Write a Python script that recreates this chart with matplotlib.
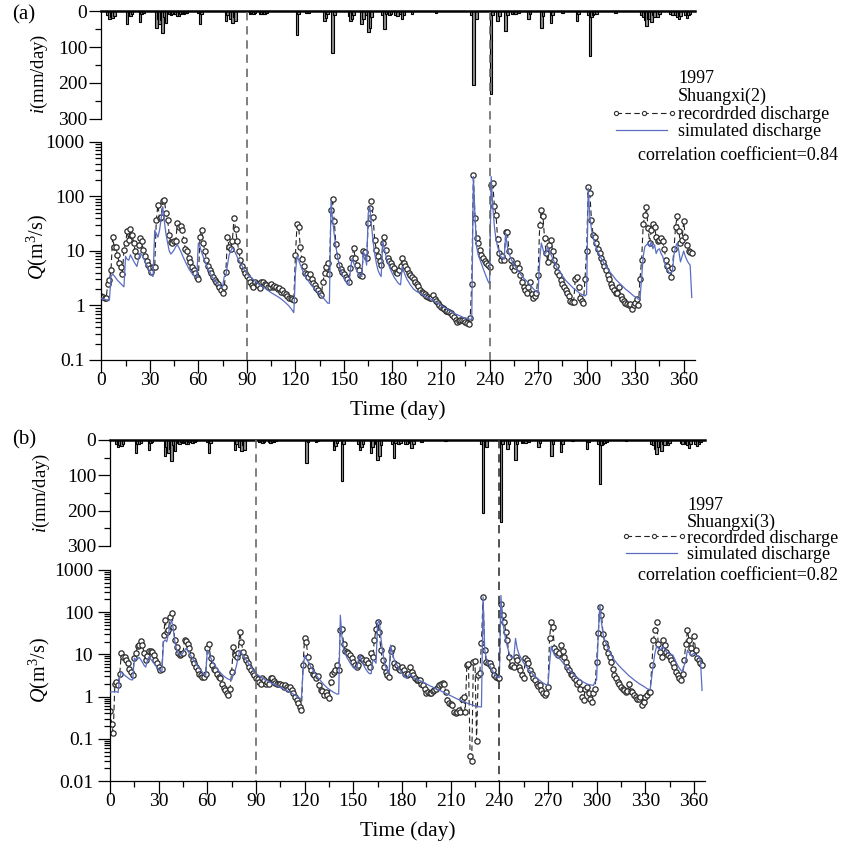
import matplotlib
matplotlib.use("Agg")
import matplotlib.pyplot as plt
import matplotlib.transforms as mtransforms
from matplotlib.lines import Line2D
from matplotlib.ticker import FixedLocator, FixedFormatter, LogLocator, NullFormatter, MultipleLocator

plt.rcParams['font.family'] = 'Liberation Serif'
plt.rcParams['mathtext.fontset'] = 'custom'
plt.rcParams['mathtext.rm'] = 'Liberation Serif'
plt.rcParams['mathtext.it'] = 'Liberation Serif:italic'

# ---------------- data ----------------
days = list(range(366))

# daily rainfall (mm/day), same gauge for both panels
rain_day = [4, 5, 6, 7, 8,
            16, 17, 18, 19,
            24, 25, 26,
            34, 35, 36, 37, 38, 39, 40,
            42, 43, 44, 45, 46, 47, 48, 49, 50, 51, 52, 53,
            60, 61, 62,
            77, 78, 80, 81, 82, 83,
            92, 93, 94, 95,
            98, 99, 100, 101, 102,
            121, 122,
            127, 128,
            138, 139, 140,
            143, 144,
            153, 154, 155, 156,
            161, 162, 164, 165, 166, 167,
            174, 175, 176, 178, 179,
            182, 183, 185, 186, 187,
            192,
            207,
            229, 230, 232,
            241, 242,
            245, 246,
            250, 251,
            254, 255, 256, 258,
            264, 265,
            272, 273,
            278, 279,
            285,
            294, 295,
            301, 302, 303, 304, 305, 306,
            318,
            334, 335, 336, 337, 338, 339, 340, 341, 342, 344, 345,
            352, 353,
            355, 356, 357, 358,
            361, 362, 363, 364]
rain_mm = [10, 20, 15, 17, 12,
           36, 10, 12, 8,
           29, 8, 5,
           45, 20, 36, 25, 59, 15, 31,
           8, 10, 6, 8, 6, 12, 12, 6, 5, 8, 5, 4,
           5, 36, 8,
           28, 10, 20, 32, 15, 28,
           7, 5, 8, 5,
           6, 8, 7, 6, 4,
           65, 6,
           5, 4,
           28, 17, 8,
           117, 10,
           12, 28, 20, 10,
           36, 20, 10, 58, 45, 15,
           10, 50, 8, 10, 8,
           10, 12, 8, 22, 10,
           6,
           4,
           10, 207, 21,
           232, 10,
           26, 12,
           56, 10,
           8, 6, 8, 5,
           21, 8,
           45, 12,
           33, 10,
           4,
           26, 6,
           10, 124, 15, 10, 8, 6,
           4,
           10, 15, 25, 40, 20, 20, 30, 10, 15, 15, 8,
           8, 10,
           10, 15, 22, 12,
           10, 17, 10, 6]

# Shuangxi(2): recorded and simulated discharge (m3/s), days 0-365
rec_a = [1.5, 1.45, 1.4, 1.35, 2.5, 2.9, 4.5, 17.8, 12, 12,
         8.5, 6, 5, 3.8, 10.5, 14, 23, 16, 25, 20,
         14, 10, 8, 13, 17, 15, 10.5, 8, 6.6, 5.5,
         4.8, 4.2, 5, 5, 37, 71, 40, 42, 83, 87,
         49, 37, 20, 14.5, 14, 15, 15, 32, 28, 29,
         24, 16, 11, 10, 7.4, 6.3, 5, 4.5, 3.9, 3.4,
         3.1, 18, 24, 14, 10, 6.8, 5.2, 4.5, 3.9, 3.4,
         2.9, 2.7, 2.5, 2.2, 1.9, 1.7, 2.2, 4.2, 17.8, 12,
         11, 15, 40, 25, 15, 10, 6.8, 5.2, 4.5, 3.9,
         3.5, 3.1, 2.7, 2.4, 2.2, 2.7, 2.5, 2.4, 2.1, 2.7,
         2.7, 2.5, 2.4, 2.2, 2.2, 2.5, 2.2, 2.3, 2.2, 2.0,
         2.1, 1.8, 1.9, 1.7, 1.6, 1.5, 1.4, 1.35, 1.3, 1.25,
         8.5, 31, 27, 12, 7, 5.2, 4, 3.8, 3.4, 3.8,
         3.0, 2.6, 2.4, 2.1, 1.9, 1.7, 1.55, 2.7, 3.9, 5,
         6, 3.8, 57, 90, 36, 13.5, 8, 5.5, 4.6, 4.2,
         3.8, 3.4, 3.0, 2.7, 4.8, 7.3, 11.5, 7.3, 5.5, 4.5,
         3.6, 3.5, 10, 9.5, 7.3, 32, 61, 84, 42, 16,
         10.5, 8, 6.6, 5.5, 14, 17.8, 10.5, 7.3, 6.6, 6,
         5.3, 4.8, 4.2, 3.9, 4.5, 5.3, 7.3, 6, 5.2, 4.6,
         4, 3.6, 3.4, 3.0, 2.7, 2.5, 2.3, 1.9, 1.8, 1.7,
         1.6, 1.5, 1.45, 1.4, 1.35, 1.55, 1.3, 1.2, 1.1, 1.0,
         0.95, 0.9, 0.85, 0.8, 0.78, 0.76, 0.72, 0.68, 0.62, 0.55,
         0.5, 0.52, 0.55, 0.54, 0.55, 0.5, 0.48, 0.45, 0.58, 2.5,
         250, 40, 17, 14, 10.5, 8.5, 7.5, 6.5, 6, 5.5,
         5, 163, 175, 67, 46, 16.5, 9.2, 6.8, 8, 6.8,
         22, 22, 10, 6.8, 5, 4.4, 5.3, 6, 4.8, 3.6,
         2.7, 2.2, 1.9, 1.7, 2.2, 2.7, 1.6, 1.4, 1.5, 1.7,
         3.6, 30, 57, 44, 17, 9.2, 6.3, 13, 16, 9.8,
         6.8, 5.2, 4.2, 3.6, 2.9, 2.5, 2.2, 1.9, 1.7, 1.5,
         1.2, 1.15, 1.15, 3.1, 3.4, 2.2, 1.4, 1.2, 1.1, 3.1,
         9.8, 152, 115, 37, 20, 18, 14, 11, 9.2, 7.3,
         6.3, 5.2, 4.5, 3.6, 3.1, 2.5, 2.2, 1.9, 1.7, 1.7,
         2.2, 1.5, 1.3, 1.2, 1.1, 1.05, 1.0, 1.05, 0.85, 1.0,
         1.1, 1.3, 1.0, 3.1, 6.8, 31, 46, 63, 26, 14,
         24, 31, 28, 18, 15, 16, 17, 15, 11, 6.8,
         5.2, 4.5, 3.4, 4.8, 11, 28, 44, 23, 14, 16,
         35, 18, 13, 9.8, 9.5, 9]

sim_a = [1.35, 1.3, 1.3, 1.28, 1.27, 1.25, 3.4, 3.8, 3.5, 3.2,
         2.9, 2.7, 2.5, 2.35, 2.2, 8, 7, 6.8, 8.5, 7.5,
         6.5, 5.8, 5.2, 7, 9.2, 8.5, 7.5, 6.5, 5.6, 4.8,
         4.2, 3.6, 3.4, 24, 21, 18, 24, 40, 65, 35,
         20, 14, 10, 8.8, 9.5, 10.5, 12, 13, 11.5, 10,
         8.5, 7.3, 6.3, 5.5, 4.8, 4.3, 3.9, 3.6, 3.4, 3.3,
         14, 12, 9.5, 7.8, 6.5, 5.5, 4.7, 4.1, 3.6, 3.2,
         2.9, 2.7, 2.5, 2.35, 2.2, 2.2, 3.4, 3.6, 5.5, 8.5,
         10, 11.5, 10.5, 9, 7.8, 6.8, 6, 5.3, 4.7, 4.2,
         3.9, 3.6, 3.4, 3.2, 3.0, 2.8, 2.65, 2.5, 2.4, 2.3,
         2.2, 2.1, 2.0, 1.9, 1.8, 1.72, 1.65, 1.58, 1.52, 1.46,
         1.4, 1.33, 1.26, 1.19, 1.12, 1.05, 0.98, 0.9, 0.82, 0.74,
         4, 8.1, 6.8, 5.6, 4.7, 4.0, 3.5, 3.1, 2.8, 2.55,
         2.35, 2.15, 2.0, 1.85, 1.72, 1.6, 1.5, 1.4, 1.3, 1.2,
         1.1, 1.1, 81, 37, 20, 12, 8, 5.8, 4.5, 3.7,
         3.2, 2.8, 2.5, 2.4, 4.5, 7.3, 6, 5, 4.3, 3.8,
         3.5, 3.4, 9.5, 8.5, 5.5, 49, 65, 30, 15, 9,
         6, 4.5, 3.8, 3.4, 15, 11, 8, 6.3, 5.2, 4.4,
         3.8, 3.3, 3.0, 2.7, 2.5, 2.4, 5.2, 4.2, 3.5, 3.0,
         2.7, 2.4, 2.2, 2.0, 1.9, 1.8, 1.75, 1.7, 1.6, 1.55,
         1.5, 1.45, 1.4, 1.35, 1.3, 1.25, 1.2, 1.15, 1.1, 1.05,
         1.0, 0.96, 0.92, 0.88, 0.85, 0.81, 0.78, 0.75, 0.72, 0.7,
         0.68, 0.66, 0.64, 0.62, 0.6, 0.59, 0.58, 0.57, 0.56, 0.55,
         233, 43, 12, 8.5, 7, 5.8, 4.8, 4, 3.3, 2.8,
         2.5, 233, 65, 28, 16, 12, 9.5, 8, 7.5, 7,
         21, 12, 9, 7.5, 6.5, 5.7, 5.1, 4.6, 4.2, 3.8,
         3.5, 3.2, 3.0, 2.8, 2.6, 2.4, 2.2, 2.05, 1.9, 1.8,
         1.7, 7, 14, 11, 8.5, 9.5, 12, 10, 8.5, 7.3,
         6.3, 5.5, 4.8, 4.3, 3.9, 3.5, 3.2, 2.9, 2.7, 2.5,
         2.35, 2.2, 2.05, 1.95, 1.85, 1.75, 1.65, 1.6, 1.55, 1.5,
         1.6, 142, 43, 25, 18, 14, 11.5, 9.8, 8.5, 7.4,
         6.5, 5.8, 5.2, 4.7, 4.3, 3.9, 3.6, 3.3, 3.0, 2.8,
         2.6, 2.45, 2.3, 2.15, 2.0, 1.9, 1.8, 1.7, 1.6, 1.5,
         1.45, 1.4, 1.3, 1.3, 3.2, 8, 12, 13, 14, 12,
         15, 11, 13, 9, 10.5, 11, 9, 8, 6.3, 5.2,
         4.5, 4.0, 3.9, 4.2, 8.5, 12, 14, 10, 6.3, 8,
         10, 8, 6.8, 6, 5.5, 1.4]

# Shuangxi(3): recorded and simulated discharge (m3/s), days 0-365
rec_b = [0.46, 0.23, 0.14, 2.0, 2.2, 1.85, 3.5, 10.8, 8.8, 8.8,
         7.3, 6.1, 4.6, 3.8, 3.2, 8.2, 10.6, 15.6, 16.6, 21,
         16.6, 10.6, 7.3, 9, 12, 12, 11.5, 9.6, 7.3, 6.1,
         5.1, 4.2, 4.6, 28.6, 65, 34, 37, 78, 98, 45,
         22, 14.6, 10.6, 9.6, 10, 11, 22, 21, 18, 14,
         9.6, 7.3, 6.1, 5.1, 4.2, 3.5, 3.2, 2.9, 2.9, 3.5,
         14, 17.6, 8.2, 5.6, 4.6, 4.2, 3.5, 2.9, 2.7, 2.0,
         1.6, 1.4, 1.2, 1.1, 1.5, 3.9, 14.6, 9.6, 8.8, 10.6,
         34, 20, 11.5, 8.8, 7.3, 6.1, 5.1, 4.2, 3.7, 3.2,
         2.8, 2.6, 2.2, 2.0, 2.8, 2.5, 2.0, 2.2, 2.0, 2.8,
         2.7, 2.4, 2.1, 2.0, 2.0, 2.0, 1.9, 1.7, 1.9, 1.7,
         1.55, 1.7, 1.4, 1.2, 1.0, 0.83, 0.7, 0.57, 0.47, 5.6,
         25, 20, 8.5, 5.3, 4.2, 3.5, 3.2, 2.7, 3.0, 1.9,
         1.4, 1.35, 1.1, 1.3, 1.1, 0.95, 2.2, 3.5, 3.9, 4.2,
         5.6, 4.2, 38, 41, 18, 12, 11.5, 10.6, 9.6, 8.2,
         6.7, 5.6, 5.1, 5.5, 8.8, 8.2, 7.3, 6.7, 7.3, 6.1,
         5.1, 10.6, 8.8, 22, 41, 59, 34, 12.6, 7.3, 5.1,
         3.9, 3.2, 2.9, 12, 14, 6.1, 5.1, 5.5, 4.6, 4.2,
         5.1, 4.2, 3.5, 3.2, 3.5, 5.1, 3.9, 3.2, 2.7, 2.5,
         2.45, 2.45, 2.0, 1.9, 1.55, 1.2, 1.3, 1.2, 1.25, 1.35,
         1.4, 1.55, 1.7, 1.9, 2.0, 2.1, 2.0, 1.3, 0.83, 0.69,
         0.66, 0.63, 0.44, 0.4, 0.44, 0.49, 0.44, 0.9, 1.0, 0.44,
         5.6, 5.9, 0.04, 0.03, 6.5, 7.1, 0.09, 3.2, 3.7, 19,
         224, 13, 6.7, 6.3, 6.1, 5.3, 4.2, 3.2, 2.9, 2.7,
         2.8, 160, 86, 60, 34, 22, 8.5, 5.3, 5.5, 5.1,
         8.8, 7.3, 5.1, 4.2, 3.2, 2.7, 8.2, 7.3, 6.1, 4.2,
         3.5, 2.7, 2.5, 2.0, 1.8, 1.85, 1.4, 1.2, 1.1, 1.2,
         1.7, 25, 59, 45, 14, 12, 9.6, 10.6, 16.6, 12,
         8.8, 6.7, 5.1, 4.2, 3.5, 3.2, 2.7, 2.5, 2.0, 2.2,
         1.55, 1.0, 0.83, 1.55, 1.7, 1.2, 0.9, 0.76, 1.2, 1.55,
         6.7, 32, 135, 86, 30, 19, 15, 10.6, 8.5, 6.7,
         4.6, 3.2, 2.7, 2.2, 2.0, 1.7, 1.55, 1.4, 1.3, 1.35,
         2.0, 1.35, 1.3, 1.1, 1.0, 0.9, 0.87, 1.0, 0.63, 0.76,
         1.0, 1.1, 1.3, 1.3, 5.6, 22, 37, 59, 18, 11.5,
         8.8, 22, 16.6, 11.5, 9.6, 8.8, 7.3, 6.1, 5.1, 3.9,
         3.2, 2.7, 2.5, 3.5, 7.3, 18, 37, 22, 14, 10.6,
         27, 12.6, 8.2, 7.3, 6.1, 5.5]

sim_b = [1.3, 1.3, 1.3, 1.3, 1.3, 1.25, 2.9, 3.9, 3.5, 3.2,
         3.0, 2.8, 2.6, 2.5, 2.5, 8.2, 7.5, 7.8, 8.5, 7.5,
         6.5, 5.5, 5.0, 7, 8.8, 7.8, 7, 6.2, 5.5, 4.9,
         4.4, 4.0, 3.9, 20, 22, 20, 30, 50, 65, 40,
         20, 13, 10.6, 10, 9.6, 11, 12.5, 14, 12, 10.5,
         9, 7.8, 6.8, 6, 5.3, 4.7, 4.2, 3.8, 3.3, 3.2,
         12.6, 10.5, 8.5, 7, 6, 5.2, 4.6, 4.1, 3.7, 3.4,
         3.1, 2.9, 2.7, 2.6, 2.5, 2.5, 3.3, 3.9, 5.5, 8.5,
         12.6, 11, 9.5, 8.3, 7.3, 6.4, 5.7, 5.0, 4.4, 3.9,
         3.5, 3.3, 3.1, 2.9, 2.75, 2.6, 2.45, 2.35, 2.25, 2.15,
         2.05, 1.95, 1.87, 1.8, 1.72, 1.65, 1.58, 1.51, 1.45, 1.39,
         1.33, 1.27, 1.21, 1.15, 1.09, 1.03, 0.97, 0.92, 0.88, 4,
         9.6, 8, 6.8, 5.8, 5, 4.3, 3.8, 3.3, 2.9, 2.6,
         2.35, 2.1, 1.9, 1.75, 1.6, 1.5, 1.4, 1.32, 1.25, 1.2,
         1.15, 1.15, 85, 26, 14, 10.5, 8.5, 7.3, 6.3, 5.5,
         4.9, 4.6, 4.5, 7, 9.6, 7.5, 6, 5, 4.3, 3.8,
         3.5, 3.5, 7.3, 7, 6.2, 55, 65, 25, 12, 7.3,
         5, 4, 3.5, 16.6, 11, 8, 6.5, 5.5, 4.7, 4.1,
         3.6, 3.2, 2.9, 2.7, 3.2, 3.4, 3.1, 2.9, 2.7, 2.6,
         2.5, 2.4, 2.3, 2.2, 2.1, 2.0, 1.9, 1.82, 1.75, 1.68,
         1.6, 1.53, 1.47, 1.41, 1.35, 1.3, 1.25, 1.2, 1.15, 1.1,
         1.05, 1.0, 0.96, 0.92, 0.88, 0.85, 0.82, 0.79, 0.76, 0.73,
         0.7, 0.68, 0.66, 0.64, 0.62, 0.6, 0.59, 0.58, 0.57, 0.57,
         230, 13, 8, 6.5, 5.5, 4.7, 4, 3.5, 3.1, 2.9,
         2.8, 250, 60, 37, 22, 15, 11, 8.8, 8.5, 8.8,
         24, 14, 10.5, 8.8, 7.3, 6.3, 5.5, 4.9, 4.4, 4.0,
         3.6, 3.3, 3.0, 2.8, 2.6, 2.4, 2.25, 2.1, 2.0, 1.9,
         1.85, 6, 15.6, 12, 9.6, 8.8, 8.5, 8, 7.3, 6.5,
         5.8, 5.2, 4.7, 4.3, 3.9, 3.6, 3.3, 3.0, 2.8, 2.6,
         2.45, 2.3, 2.2, 2.1, 2.0, 1.95, 1.9, 1.87, 1.85, 2.2,
         2.5, 30, 150, 55, 30, 22, 18, 14, 11.5, 9.6,
         8.3, 7.3, 6.5, 5.8, 5.3, 4.8, 4.4, 4.0, 3.7, 3.4,
         3.1, 2.9, 2.7, 2.5, 2.35, 2.2, 2.05, 1.95, 1.85, 1.75,
         1.65, 1.55, 1.5, 1.45, 3, 6.1, 11, 15.6, 14, 12.6,
         14, 15.6, 13, 11.5, 10.8, 10.2, 9.9, 9.6, 8, 6.5,
         5.5, 4.7, 4.2, 3.9, 5.5, 7.3, 12.6, 11, 9.6, 10,
         10.6, 9.8, 9.2, 8.8, 7.3, 1.4]

stations = ['Shuangxi(2)', 'Shuangxi(3)']
correlations = ['0.84', '0.82']
panel_tags = ['(a)', '(b)']
split_days = [90, 240]

# ---------------- figure ----------------
W, H = 845, 843
fig = plt.figure(figsize=(W / 100, H / 100), dpi=100)


def axes_px(left, top, right, bottom):
    return fig.add_axes([left / W, 1 - bottom / H, (right - left) / W, (bottom - top) / H])


SIM_COLOR = '#5a6dc2'
TICK_FS = 14
LEG_FS = 13


def rain_axis(ax):
    ax.bar(rain_day, rain_mm, width=1.6, color='#8c8c8c', edgecolor='black',
           linewidth=0.8, zorder=2)
    ax.axhline(0, color='black', lw=1.8, clip_on=False, zorder=3)
    ax.set_xlim(0, 367)
    ax.set_ylim(300, 0)
    for s in ('top', 'right', 'bottom'):
        ax.spines[s].set_visible(False)
    ax.spines['left'].set_linewidth(0.9)
    ax.xaxis.set_visible(False)
    ax.yaxis.set_major_locator(FixedLocator([0, 100, 200, 300]))
    ax.yaxis.set_minor_locator(FixedLocator([50, 150, 250]))
    ax.tick_params(axis='y', which='major', direction='out', length=9, width=0.9,
                   labelsize=TICK_FS, pad=1)
    ax.tick_params(axis='y', which='minor', direction='out', length=4.5, width=0.9)
    ax.set_ylabel(r'$\mathit{i}$(mm/day)', fontsize=13.5)
    ax.patch.set_alpha(0)


def q_axis(ax, rec, sim, ymin):
    ax.plot(days, rec, color='#222222', lw=0.8, ls=(0, (5, 3)), marker='o',
            ms=3.8, mfc='white', mec='#2a2a2a', mew=0.9, zorder=2)
    ax.plot(days, sim, color=SIM_COLOR, lw=0.9, zorder=3)
    ax.set_yscale('log')
    ax.set_xlim(0, 367)
    ax.set_ylim(ymin, 1000)
    for s in ('top', 'right'):
        ax.spines[s].set_visible(False)
    for s in ('left', 'bottom'):
        ax.spines[s].set_linewidth(0.9)
    decades = [d for d in [0.01, 0.1, 1, 10, 100, 1000] if d >= ymin]
    ax.yaxis.set_major_locator(FixedLocator(decades))
    ax.yaxis.set_major_formatter(FixedFormatter([('%g' % d) for d in decades]))
    ax.yaxis.set_minor_locator(LogLocator(base=10, subs=[2, 3, 4, 5, 6, 7, 8, 9], numticks=20))
    ax.yaxis.set_minor_formatter(NullFormatter())
    ax.xaxis.set_major_locator(MultipleLocator(30))
    ax.xaxis.set_minor_locator(MultipleLocator(15))
    ax.tick_params(which='major', direction='out', length=9, width=0.9,
                   labelsize=TICK_FS)
    ax.tick_params(which='minor', direction='out', length=4.5, width=0.9)
    ax.tick_params(axis='x', which='major', pad=0)
    ax.tick_params(axis='y', which='major', pad=3)
    ax.set_ylabel(r'$\mathit{Q}$(m$^3$/s)', fontsize=14.5)
    ax.set_xlabel('Time (day)', fontsize=15.5, labelpad=8)
    ax.patch.set_alpha(0)


def split_lines(ax_q, top_px, bottom_px, colors):
    trans = mtransforms.blended_transform_factory(ax_q.transData, fig.transFigure)
    for d, c in zip(split_days, colors):
        fig.add_artist(Line2D([d, d], [1 - top_px / H, 1 - bottom_px / H], transform=trans,
                              color=c, lw=1.2, ls=(0, (5, 3.5)), zorder=1))


def legend_block(x_txt, x_corr, y_first, spacing, y_corr, station, corr):
    lines = ['1997', station, 'recordrded discharge', 'simulated discharge']
    fig.text(x_txt / W, 1 - (y_first - 8) / H, '\n'.join(lines), fontsize=LEG_FS,
             va='top', ha='left', linespacing=spacing)
    fig.text(x_corr / W, 1 - y_corr / H, 'correlation coefficient=' + corr, fontsize=LEG_FS,
             va='center', ha='left')


def legend_samples(y_rec, y_sim, x_line0, x_line1):
    def ty(y):
        return 1 - y / H
    xm = (x_line0 + x_line1) / 2
    fig.add_artist(Line2D([x_line0 / W, xm / W, x_line1 / W], [ty(y_rec)] * 3,
                          transform=fig.transFigure, color='#222222', lw=0.8,
                          ls=(0, (5, 3)), marker='o', ms=3.0, mfc='white',
                          mec='#333333', mew=0.8))
    fig.add_artist(Line2D([x_line0 / W, (x_line1 - 5) / W], [ty(y_sim)] * 2,
                          transform=fig.transFigure, color=SIM_COLOR, lw=0.9))


# panel (a)
ra = axes_px(101.3, 11.5, 695, 118.5)
qa = axes_px(101.3, 142, 695, 360)
rain_axis(ra)
q_axis(qa, rec_a, sim_a, 0.1)
ra.yaxis.set_label_coords(-0.086, 0.42)
qa.yaxis.set_label_coords(-0.086, 0.52)
split_lines(qa, 11.5, 360, ['#6a6a6a', '#6a6a6a'])
legend_block(678, 638, 78, 1.05, 155, stations[0], correlations[0])
legend_samples(113, 130, 616, 672)
fig.text(12 / W, 1 - 15 / H, panel_tags[0], fontsize=15, va='center', ha='left')

# panel (b)
rb = axes_px(110, 440, 705.3, 546)
qb = axes_px(110, 570, 705.3, 781)
rain_axis(rb)
q_axis(qb, rec_b, sim_b, 0.01)
rb.yaxis.set_label_coords(-0.097, 0.5)
qb.yaxis.set_label_coords(-0.097, 0.526)
split_lines(qb, 440, 781, ['#6a6a6a', '#333333'])
legend_block(687, 638, 505, 0.95, 575, stations[1], correlations[1])
legend_samples(536, 553, 626, 682)
fig.text(12 / W, 1 - 440 / H, panel_tags[1], fontsize=15, va='center', ha='left')

fig.savefig('out.png', dpi=100)
